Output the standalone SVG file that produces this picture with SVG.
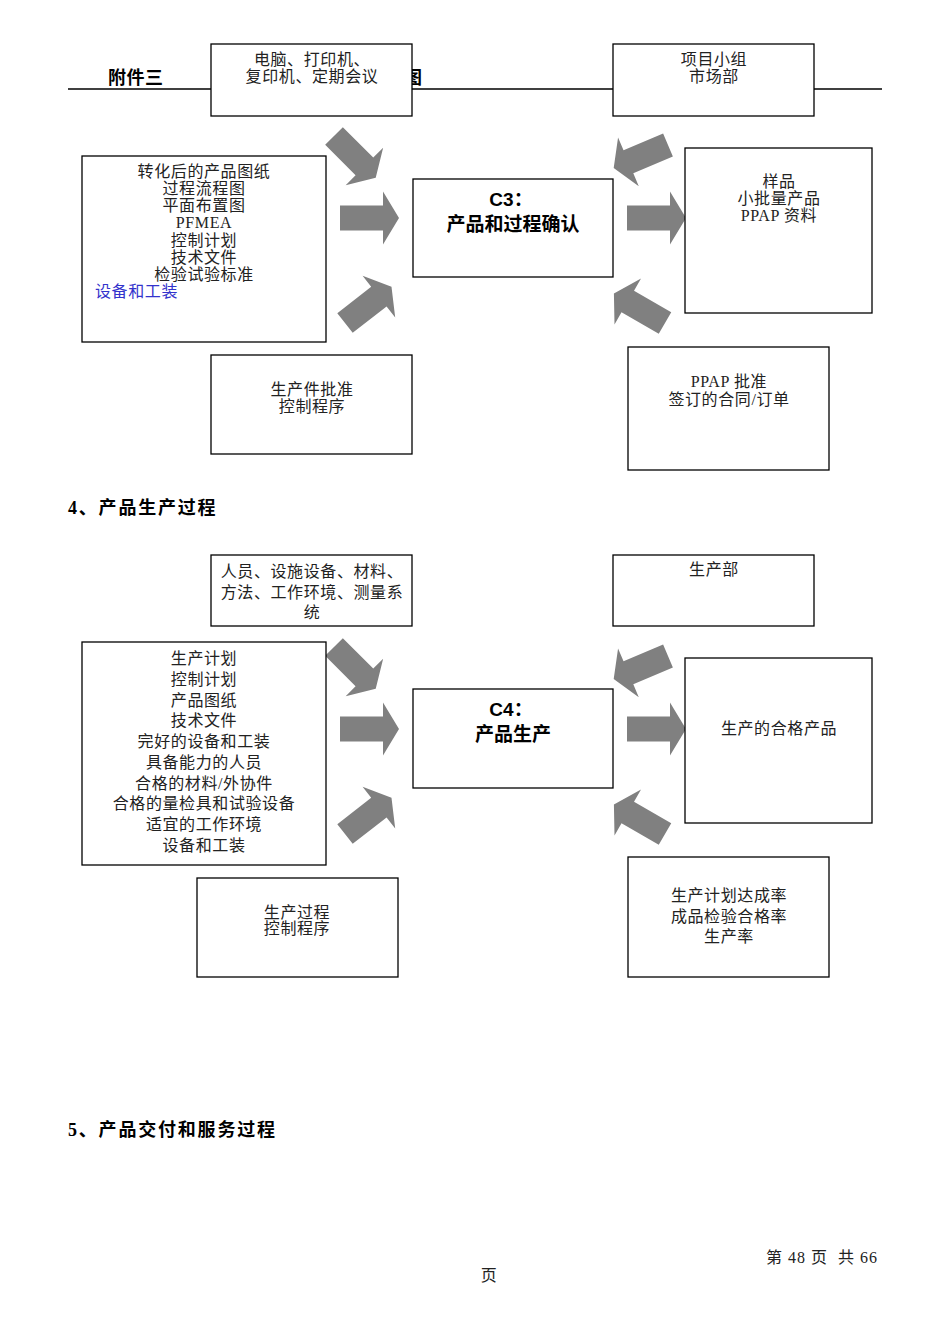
<svg xmlns="http://www.w3.org/2000/svg" width="950" height="1344" viewBox="0 0 950 1344">
<style>
.box{fill:#fff;stroke:#000;stroke-width:1.3}
.t{font-family:"Liberation Serif","Noto Sans CJK SC",serif;font-size:16px;letter-spacing:0.6px;fill:#222;text-anchor:middle;dominant-baseline:central}
.b{font-family:"Liberation Sans","Noto Sans CJK SC",sans-serif;font-size:19px;font-weight:bold;fill:#000;text-anchor:middle;dominant-baseline:central}
.h{font-family:"Liberation Serif","Noto Sans CJK SC",serif;font-size:18px;font-weight:bold;letter-spacing:1.8px;fill:#000;dominant-baseline:central}
.arr{fill:#808080}
</style>
<defs>
<path id="ar" d="M0,-12.5 L43,-12.5 L43,-26.5 L59,0 L43,26.5 L43,12.5 L0,12.5 Z"/>
</defs>
<rect width="950" height="1344" fill="#fff"/>
<g id="header">
<line x1="68" y1="89" x2="882" y2="89" stroke="#000" stroke-width="1.3"/>
<text class="h" x="108" y="78" style="letter-spacing:0.5px">附件三</text>
<text class="h" x="404" y="78">图</text>
</g>
<g id="connectors" class="arr">
<use href="#ar" transform="translate(334,136) rotate(45)"/>
<use href="#ar" transform="translate(340,218)"/>
<use href="#ar" transform="translate(345,323) rotate(-38)"/>
<use href="#ar" transform="translate(668,145) rotate(157)"/>
<use href="#ar" transform="translate(627,218)"/>
<use href="#ar" transform="translate(665,323) rotate(-150)"/>
<use href="#ar" transform="translate(334,647) rotate(45)"/>
<use href="#ar" transform="translate(340,729)"/>
<use href="#ar" transform="translate(345,834) rotate(-38)"/>
<use href="#ar" transform="translate(668,656) rotate(157)"/>
<use href="#ar" transform="translate(627,729)"/>
<use href="#ar" transform="translate(665,834) rotate(-150)"/>
</g>
<g id="n-c3-top">
<rect class="box" x="211" y="44" width="201" height="72"/>
<text class="t" x="312" y="59">电脑、打印机、</text>
<text class="t" x="312" y="76">复印机、定期会议</text>
</g>
<g id="n-c3-topright">
<rect class="box" x="613" y="44" width="201" height="72"/>
<text class="t" x="714" y="59">项目小组</text>
<text class="t" x="714" y="76">市场部</text>
</g>
<g id="n-c3-left">
<rect class="box" x="82" y="156" width="244" height="186"/>
<text class="t" x="204" y="171">转化后的产品图纸</text>
<text class="t" x="204" y="188">过程流程图</text>
<text class="t" x="204" y="205">平面布置图</text>
<text class="t" x="204" y="222">PFMEA</text>
<text class="t" x="204" y="240">控制计划</text>
<text class="t" x="204" y="257">技术文件</text>
<text class="t" x="204" y="274">检验试验标准</text>
<text class="t" x="95" y="291" style="text-anchor:start;fill:#3333cc">设备和工装</text>
</g>
<g id="n-c3">
<rect class="box" x="413" y="179" width="200" height="98"/>
<text class="b" x="511" y="199">C3：</text>
<text class="b" x="513" y="224">产品和过程确认</text>
</g>
<g id="n-c3-right">
<rect class="box" x="685" y="148" width="187" height="165"/>
<text class="t" x="779" y="181">样品</text>
<text class="t" x="779" y="198">小批量产品</text>
<text class="t" x="779" y="215">PPAP 资料</text>
</g>
<g id="n-c3-bottom">
<rect class="box" x="211" y="355" width="201" height="99"/>
<text class="t" x="312" y="389">生产件批准</text>
<text class="t" x="312" y="406">控制程序</text>
</g>
<g id="n-c3-bottomright">
<rect class="box" x="628" y="347" width="201" height="123"/>
<text class="t" x="729" y="381">PPAP 批准</text>
<text class="t" x="729" y="399">签订的合同/订单</text>
</g>
<g id="heading4">
<text class="h" x="68" y="508">4、产品生产过程</text>
</g>
<g id="n-c4-top">
<rect class="box" x="211" y="555" width="201" height="71"/>
<text class="t" x="312" y="571">人员、设施设备、材料、</text>
<text class="t" x="312" y="592">方法、工作环境、测量系</text>
<text class="t" x="312" y="612">统</text>
</g>
<g id="n-c4-topright">
<rect class="box" x="613" y="555" width="201" height="71"/>
<text class="t" x="714" y="569">生产部</text>
</g>
<g id="n-c4-left">
<rect class="box" x="82" y="642" width="244" height="223"/>
<text class="t" x="204" y="658">生产计划</text>
<text class="t" x="204" y="679">控制计划</text>
<text class="t" x="204" y="700">产品图纸</text>
<text class="t" x="204" y="720">技术文件</text>
<text class="t" x="204" y="741">完好的设备和工装</text>
<text class="t" x="204" y="762">具备能力的人员</text>
<text class="t" x="204" y="783">合格的材料/外协件</text>
<text class="t" x="204" y="803">合格的量检具和试验设备</text>
<text class="t" x="204" y="824">适宜的工作环境</text>
<text class="t" x="204" y="845">设备和工装</text>
</g>
<g id="n-c4">
<rect class="box" x="413" y="689" width="200" height="99"/>
<text class="b" x="511" y="709">C4：</text>
<text class="b" x="513" y="734">产品生产</text>
</g>
<g id="n-c4-right">
<rect class="box" x="685" y="658" width="187" height="165"/>
<text class="t" x="779" y="728">生产的合格产品</text>
</g>
<g id="n-c4-bottom">
<rect class="box" x="197" y="878" width="201" height="99"/>
<text class="t" x="297" y="912">生产过程</text>
<text class="t" x="297" y="928">控制程序</text>
</g>
<g id="n-c4-bottomright">
<rect class="box" x="628" y="857" width="201" height="120"/>
<text class="t" x="729" y="895">生产计划达成率</text>
<text class="t" x="729" y="916">成品检验合格率</text>
<text class="t" x="729" y="936">生产率</text>
</g>
<g id="heading5">
<text class="h" x="68" y="1130">5、产品交付和服务过程</text>
</g>
<g id="footer">
<text class="t" x="766" y="1257" style="text-anchor:start;letter-spacing:1px;white-space:pre" xml:space="preserve">第 48 页  共 66</text>
<text class="t" x="489" y="1275">页</text>
</g>
</svg>
